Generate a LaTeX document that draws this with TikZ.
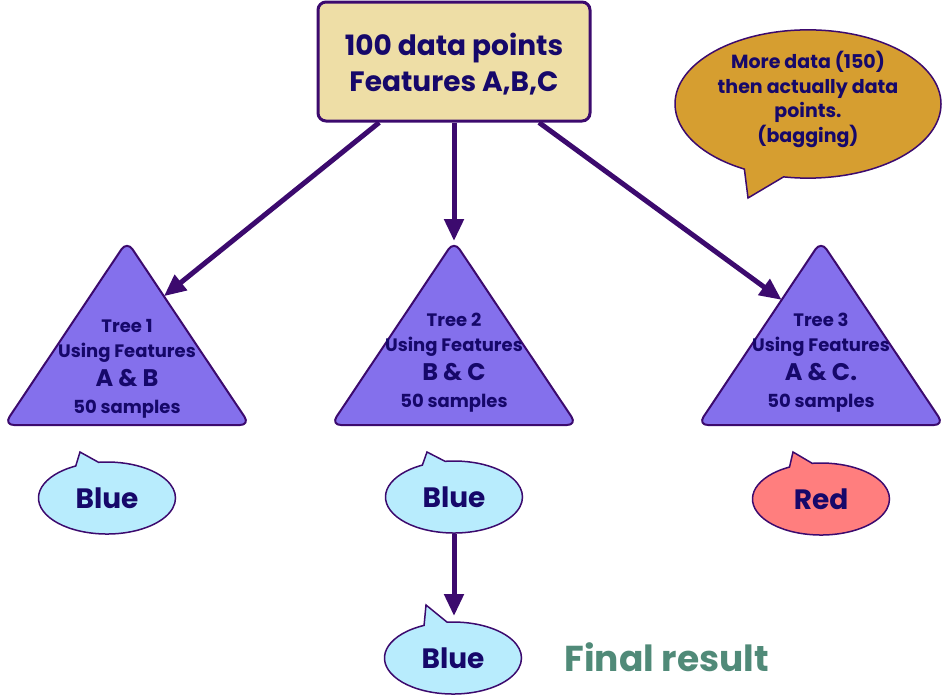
\documentclass[tikz,border=0pt]{standalone}
\usepackage{fontspec}
\setmainfont{Poppins}
\usetikzlibrary{arrows.meta,shapes.callouts,calc}
\definecolor{boxfill}{RGB}{238,222,166}
\definecolor{edge}{RGB}{60,10,110}
\definecolor{bagfill}{RGB}{214,158,48}
\definecolor{trifill}{RGB}{132,112,236}
\definecolor{bluefill}{RGB}{184,236,253}
\definecolor{redfill}{RGB}{255,126,126}
\definecolor{finalcol}{RGB}{80,138,120}
\definecolor{ink}{RGB}{22,8,106}
\begin{document}
\begin{tikzpicture}[x=1pt,y=-1pt,
  txt/.style={text=ink,align=center},
  topbox/.style={draw=edge,line width=3pt,fill=boxfill,rounded corners=8pt,minimum width=272pt,minimum height=119pt,txt,font=\bfseries\fontsize{28}{36}\selectfont},
  treetri/.style={draw=edge,line width=2pt,fill=trifill,rounded corners=10pt},
  treetxt/.style={txt,font=\bfseries\fontsize{18}{25}\selectfont},
  vote/.style={ellipse callout,draw=edge,line width=1.5pt,minimum width=137pt,minimum height=72pt,inner sep=0pt,txt,font=\bfseries\fontsize{28}{32}\selectfont,callout pointer arc=20},
  conn/.style={draw=edge,line width=5pt,-{Triangle[length=22pt,width=19pt]}}]
\useasboundingbox (0,0) rectangle (949,696);
% top box
\node[topbox] (top) at (454,61.5) {\rule{0pt}{28pt}100 data points\\Features A,B,C};
% bagging bubble
\node[ellipse callout,draw=edge,line width=1.5pt,fill=bagfill,minimum width=266pt,minimum height=128pt,inner sep=0pt,callout absolute pointer={(748,198)},callout pointer arc=18,txt,font=\bfseries\fontsize{19}{24.5}\selectfont] (bag) at (808,104) {More data (150)\\then actually data\\points.\\(bagging)\rule[-14pt]{0pt}{1pt}};
% trees
\foreach \n/\cx in {1/127,2/454,3/821}{
  \coordinate (t\n a) at (\cx,241);
  \coordinate (t\n l) at (\cx-123,425);
  \coordinate (t\n r) at (\cx+123,425);
  \path[treetri] (t\n a) -- (t\n r) -- (t\n l) -- cycle;
}
\node[treetxt] (tree1) at (127,369) {Tree 1\\Using Features\\[4pt]{\fontsize{24}{28}\selectfont A \& B}\\[2pt]50 samples};
\node[treetxt] (tree2) at (454,363) {Tree 2\\Using Features\\[4pt]{\fontsize{24}{28}\selectfont B \& C}\\[2pt]50 samples};
\node[treetxt] (tree3) at (821,363) {Tree 3\\Using Features\\[4pt]{\fontsize{24}{28}\selectfont A \& C.}\\[2pt]50 samples};
% arrows from top box
\coordinate (e1) at ($(t1a)!0.3!(t1r)$);
\coordinate (e3) at ($(t3a)!0.32!(t3l)$);
\draw[conn] ($(top.south west)!0.228!(top.south east)$) -- (e1);
\draw[conn] (top.south) -- (t2a);
\draw[conn] ($(top.south west)!0.809!(top.south east)$) -- (e3);
% votes
\node[vote,fill=bluefill,callout absolute pointer={(80,452)}] (v1) at (107,498) {Blue};
\node[vote,fill=bluefill,callout absolute pointer={(427,452)}] (v2) at (454,497) {Blue};
\node[vote,fill=redfill,callout absolute pointer={(793,452)}] (v3) at (821,499) {Red};
\node[vote,fill=bluefill,callout absolute pointer={(426,605)}] (fin) at (453,658) {Blue};
\draw[conn] (v2.south) -- (454,616);
\node[font=\bfseries\fontsize{36}{40}\selectfont,text=finalcol,anchor=west] (finlabel) at (561,657) {Final result};
\end{tikzpicture}
\end{document}
